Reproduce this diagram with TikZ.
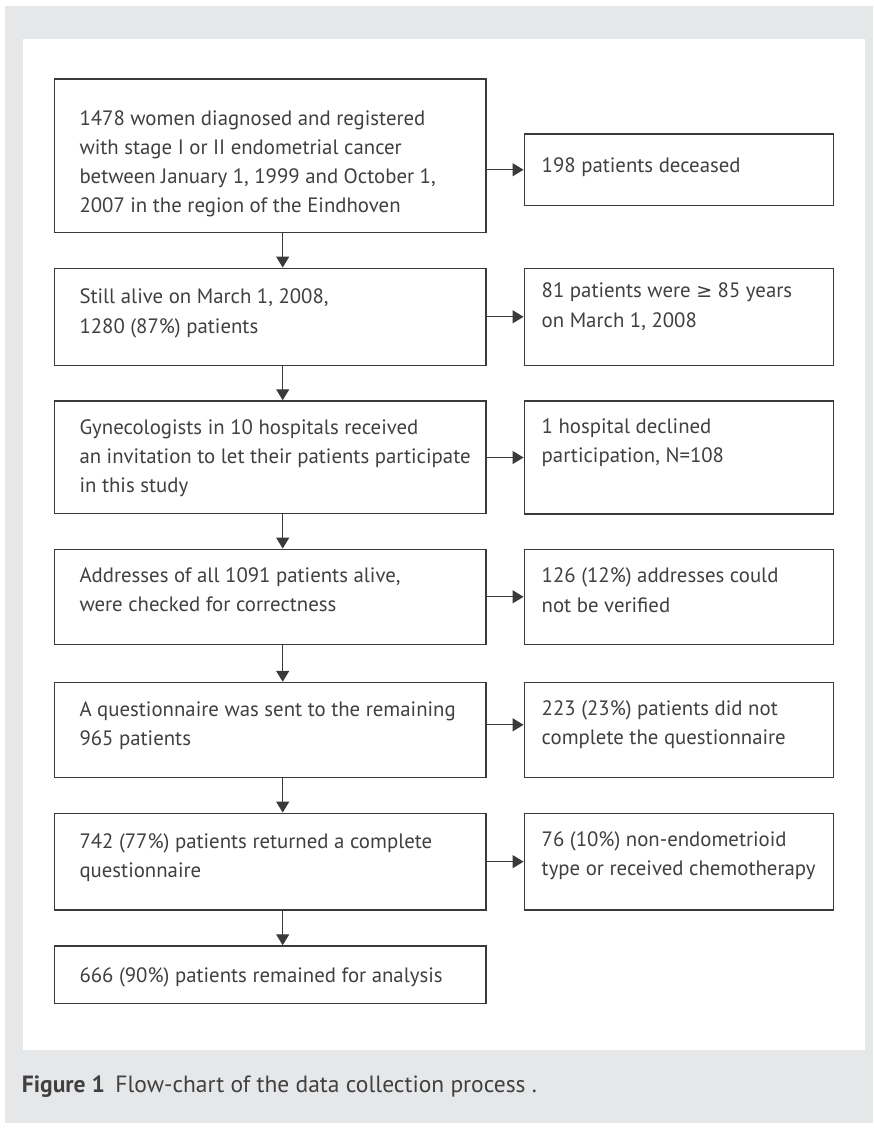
\documentclass[tikz,border=0pt]{standalone}
\usepackage{fontspec}
\setmainfont{PT Sans}
\newfontfamily\symf{DejaVu Sans}
\usetikzlibrary{arrows.meta,fit}
\definecolor{bggray}{HTML}{E6E7E9}
\definecolor{linec}{HTML}{3A3A3A}
\definecolor{txtc}{HTML}{404040}
\begin{document}
\begin{tikzpicture}[x=1pt,y=-1pt,
  box/.style={draw=linec,line width=1.5pt,inner sep=0pt,fill=white},
  arr/.style={draw=linec,line width=1.3pt,-{Triangle[length=11pt,width=13pt]}},
  txt/.style={inner sep=0pt,anchor=base west,align=left,text=txtc,font=\fontsize{20.8}{29.3}\selectfont}]
\useasboundingbox (0,0) rectangle (873,1129);
\fill[bggray] (5,6) rectangle (873,1123);
\fill[white] (22.7,39.3) rectangle (865,1050);
% left column boxes
\node[box,fit={(54.3,79) (486,232.7)}] (b1) {};
\node[box,fit={(54.3,268.3) (486,365.3)}] (b2) {};
\node[box,fit={(54.3,401) (486,513.5)}] (b3) {};
\node[box,fit={(54.3,549.3) (486,644.3)}] (b4) {};
\node[box,fit={(54.3,682.5) (486,777.3)}] (b5) {};
\node[box,fit={(54.3,813.3) (486,910)}] (b6) {};
\node[box,fit={(54.3,946) (486,1003.5)}] (b7) {};
% right column boxes
\node[box,fit={(524.3,134) (833.3,205.5)}] (r1) {};
\node[box,fit={(524.3,268.3) (833.3,365.3)}] (r2) {};
\node[box,fit={(524.3,401) (833.3,514)}] (r3) {};
\node[box,fit={(524.3,549.3) (833.3,644.3)}] (r4) {};
\node[box,fit={(524.3,682.3) (833.3,777.3)}] (r5) {};
\node[box,fit={(524.3,813.3) (833.3,910)}] (r6) {};
% texts (anchored at the baseline of their last line)
\node[txt] (t1) at (79.3,212.9) {1478 women diagnosed and registered\\with stage I or II endometrial cancer\\between January 1, 1999 and October 1,\\2007 in the region of the Eindhoven};
\node[txt] (t2) at (79.3,333) {Still alive on March 1, 2008,\\1280 (87\%) patients};
\node[txt] (t3) at (79.3,492.7) {Gynecologists in 10 hospitals received\\an invitation to let their patients participate\\in this study};
\node[txt] (t4) at (79.3,611.3) {Addresses of all 1091 patients alive,\\were checked for correctness};
\node[txt] (t5) at (79.3,745.3) {A questionnaire was sent to the remaining\\965 patients};
\node[txt] (t6) at (79.3,877.7) {742 (77\%) patients returned a complete\\questionnaire};
\node[txt] (t7) at (79.3,982) {666 (90\%) patients remained for analysis};
\node[txt] (s1) at (541.5,172) {198 patients deceased};
\node[txt] (s2) at (541.5,327) {81 patients were {\symf\fontsize{19}{29.3}\selectfont ≥} 85 years\\on March 1, 2008};
\node[txt] (s3) at (541.5,462.7) {1 hospital declined\\participation, N=108};
\node[txt] (s4) at (541.5,612) {126 (12\%) addresses could\\not be verified};
\node[txt] (s5) at (541.5,744.7) {223 (23\%) patients did not\\complete the questionnaire};
\node[txt] (s6) at (541.5,875.3) {76 (10\%) non-endometrioid\\type or received chemotherapy};
\node[txt,font=\fontsize{23.5}{28}\selectfont] (cap) at (21.7,1092) {\textbf{Figure 1}\hspace{0.45em}Flow-chart of the data collection process .};
% connectors
\coordinate (ax) at (282.7,0);
\draw[arr] (b1.south -| ax) -- (b2.north -| ax);
\draw[arr] (b2.south -| ax) -- (b3.north -| ax);
\draw[arr] (b3.south -| ax) -- (b4.north -| ax);
\draw[arr] (b4.south -| ax) -- (b5.north -| ax);
\draw[arr] (b5.south -| ax) -- (b6.north -| ax);
\draw[arr] (b6.south -| ax) -- (b7.north -| ax);
\draw[arr] (r1.west -| b1.east) -- (r1.west);
\draw[arr] (r2.west -| b2.east) -- (r2.west);
\draw[arr] (r3.west -| b3.east) -- (r3.west);
\draw[arr] (r4.west -| b4.east) -- (r4.west);
\draw[arr] ([yshift=5pt]r5.west -| b5.east) -- ([yshift=5pt]r5.west);
\draw[arr] (r6.west -| b6.east) -- (r6.west);
\end{tikzpicture}
\end{document}
